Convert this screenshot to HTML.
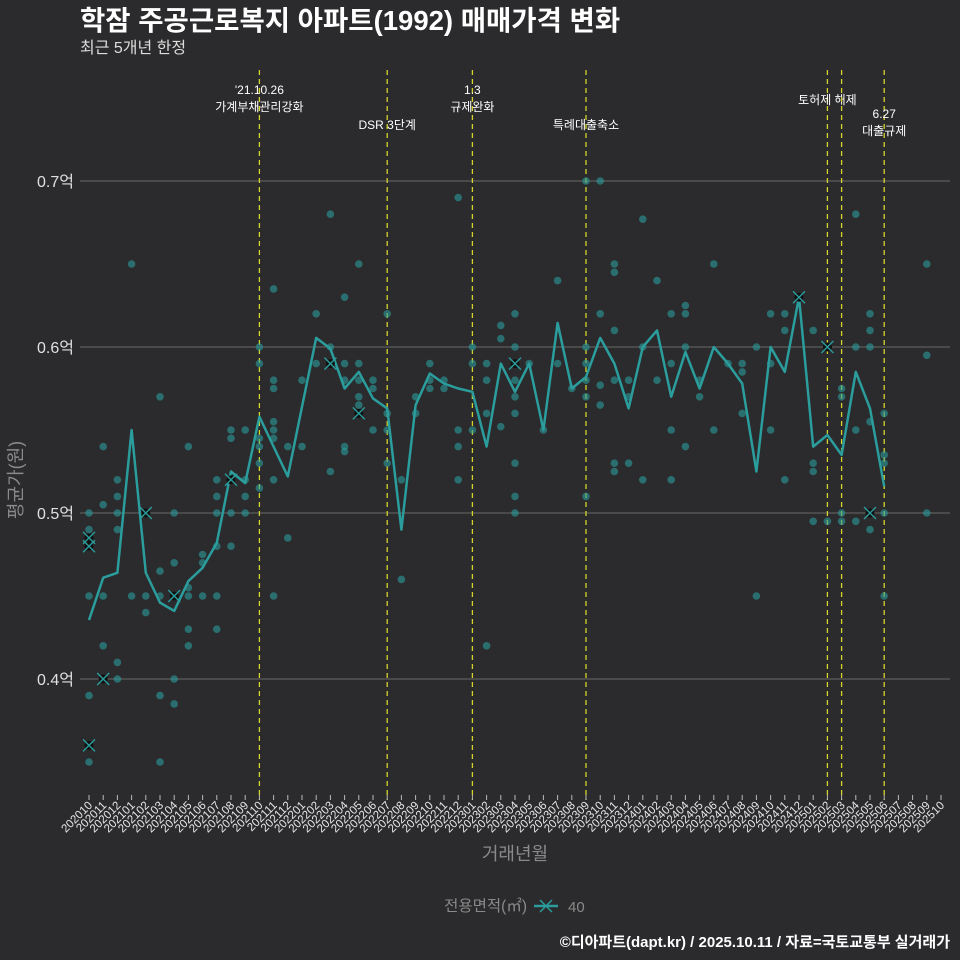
<!DOCTYPE html>
<html><head><meta charset="utf-8">
<style>
html,body{margin:0;padding:0;background:#2b2a2c;}
svg{display:block;font-family:"Liberation Sans","Noto Sans CJK KR",sans-serif;}
</style></head>
<body>
<svg id="chart" width="960" height="960" viewBox="0 0 960 960">
<rect x="0" y="0" width="960" height="960" fill="#2b2a2c"/>
<text x="80" y="30" fill="#ffffff" font-size="27.5" font-weight="bold">학잠 주공근로복지 아파트(1992) 매매가격 변화</text>
<text x="80" y="53" fill="#dddddd" font-size="16">최근 5개년 한정</text>
<g id="grid"></g>
<g id="events"></g>
<g id="points"></g>
<g id="line"></g>
<g id="xaxis"></g>
<text transform="translate(22,480) rotate(-90)" text-anchor="middle" fill="#8a8a8a" font-size="18">평균가(원)</text>
<text x="515" y="860" text-anchor="middle" fill="#8a8a8a" font-size="18">거래년월</text>
<g>
<text x="527" y="911" text-anchor="end" fill="#8a8a8a" font-size="15.5">전용면적(㎡)</text>
<line x1="534" y1="906" x2="558" y2="906" stroke="#2a9d9c" stroke-width="2.5"/>
<path d="M540,900 L552,912 M552,900 L540,912" stroke="#2a9d9c" stroke-width="1.5"/>
<text x="568" y="912" fill="#8a8a8a" font-size="15">40</text>
</g>
<text x="950" y="947" text-anchor="end" fill="#ffffff" font-size="15" font-weight="bold">©디아파트(dapt.kr) / 2025.10.11 / 자료=국토교통부 실거래가</text>
</svg>
<script>
const months=[];
for(let y=2020,m=10;months.length<61;){months.push(''+y+(m<10?'0'+m:m));m++;if(m>12){m=1;y++;}}
const yTicks=[0.4,0.5,0.6,0.7];
const yTickLabels=['0.4억','0.5억','0.6억','0.7억'];
const avgLine=[0.4355,0.461,0.464,0.550,0.464,0.446,0.441,0.459,0.467,0.482,0.525,0.518,0.558,0.540,0.522,0.564,0.6055,0.599,0.575,0.585,0.569,0.563,0.490,0.565,0.584,0.578,0.575,0.573,0.540,0.590,0.573,0.590,0.550,0.6145,0.575,0.582,0.6055,0.590,0.563,0.600,0.610,0.570,0.597,0.575,0.600,0.590,0.578,0.525,0.600,0.585,0.630,0.540,0.547,0.535,0.585,0.563,0.516];
const pointIdx=[0,0,0,0,0,0,0,0,1,1,1,1,1,2,2,2,2,2,2,3,3,4,4,4,5,5,5,5,5,6,6,6,6,6,7,7,7,7,7,8,8,8,9,9,9,9,9,9,10,10,10,10,10,11,11,11,11,12,12,12,12,12,12,13,13,13,13,13,13,13,13,14,14,15,15,16,16,17,17,17,17,18,18,18,18,18,19,19,19,19,19,19,20,20,20,21,21,21,21,22,22,23,23,24,24,24,25,25,26,26,26,26,27,27,27,28,28,28,28,29,29,29,30,30,30,30,30,30,30,30,30,31,32,33,33,34,35,35,35,35,35,35,36,36,36,36,37,37,37,37,37,37,38,38,38,39,39,39,40,40,41,41,41,41,42,42,42,42,43,43,44,44,45,46,46,46,47,47,48,48,48,49,49,49,50,51,51,51,51,52,52,53,53,53,53,54,54,54,54,55,55,55,55,55,55,56,56,56,56,56,59,59,59];
const pointVal=[0.5,0.49,0.485,0.48,0.45,0.39,0.36,0.35,0.54,0.505,0.45,0.42,0.40,0.52,0.51,0.50,0.49,0.41,0.40,0.65,0.45,0.50,0.45,0.44,0.57,0.465,0.45,0.39,0.35,0.50,0.47,0.45,0.40,0.385,0.54,0.455,0.45,0.43,0.42,0.475,0.47,0.45,0.52,0.51,0.50,0.48,0.45,0.43,0.55,0.545,0.52,0.50,0.48,0.55,0.52,0.51,0.50,0.60,0.59,0.545,0.54,0.53,0.515,0.635,0.58,0.575,0.555,0.55,0.545,0.52,0.45,0.54,0.485,0.58,0.54,0.62,0.59,0.68,0.60,0.59,0.525,0.63,0.59,0.58,0.54,0.537,0.65,0.59,0.58,0.57,0.565,0.56,0.58,0.575,0.55,0.62,0.56,0.55,0.53,0.52,0.46,0.57,0.56,0.59,0.58,0.575,0.58,0.575,0.69,0.55,0.54,0.52,0.60,0.59,0.55,0.59,0.58,0.56,0.42,0.613,0.605,0.552,0.62,0.60,0.59,0.58,0.57,0.56,0.53,0.51,0.50,0.59,0.55,0.64,0.59,0.575,0.70,0.60,0.59,0.58,0.57,0.51,0.70,0.62,0.577,0.565,0.65,0.645,0.61,0.58,0.53,0.525,0.58,0.57,0.53,0.677,0.60,0.52,0.64,0.58,0.62,0.59,0.55,0.52,0.625,0.62,0.60,0.54,0.58,0.57,0.65,0.55,0.59,0.59,0.585,0.56,0.60,0.45,0.62,0.59,0.55,0.62,0.61,0.52,0.63,0.61,0.53,0.525,0.495,0.60,0.495,0.575,0.57,0.50,0.495,0.68,0.60,0.55,0.495,0.62,0.61,0.60,0.555,0.50,0.49,0.56,0.535,0.53,0.50,0.45,0.65,0.595,0.50];
const crossIdx=[0,0,0,1,4,6,10,17,19,30,50,52,55];
const crossVal=[0.485,0.48,0.36,0.40,0.50,0.45,0.52,0.59,0.56,0.59,0.63,0.60,0.50];
const eventIdx=[12,21,27,35,52,53,56];
const eventLabels=[["'21.10.26","가계부채관리강화"],["DSR 3단계"],["1.3","규제완화"],["특례대출축소"],["토허제 해제"],[""],["6.27","대출규제"]];
const eventLabelY=[94,129,94,129,104,0,118];

const NS='http://www.w3.org/2000/svg';
const x=i=>89+i*14.2;
const y=v=>181+(0.7-v)*1660;
function mk(tag,attrs,parent){const e=document.createElementNS(NS,tag);for(const k in attrs)e.setAttribute(k,attrs[k]);parent.appendChild(e);return e;}
const grid=document.getElementById('grid');
yTicks.forEach((v,k)=>{
  const l=mk('line',{x1:80,x2:950,y1:y(v),y2:y(v),stroke:'#5e5e5e','stroke-width':1.2},grid);
  
  
  const t=mk('text',{x:74,y:y(v)+6,'text-anchor':'end',fill:'#e0e0e0','font-size':16},grid);
  t.textContent=yTickLabels[k];
  
  
});
const ev=document.getElementById('events');
eventIdx.forEach((i,k)=>{
  const l=mk('line',{x1:x(i),x2:x(i),y1:70,y2:800,stroke:'#d4d42a','stroke-width':1.3,'stroke-dasharray':'5,4'},ev);
  
  
  eventLabels[k].forEach((s,j)=>{
    if(!s)return;
    const t=mk('text',{x:x(i),y:eventLabelY[k]+j*17,'text-anchor':'middle',fill:'#ffffff','font-size':12},ev);
    t.textContent=s;
    
    
  });
});
const pts=document.getElementById('points');
pointIdx.forEach((i,k)=>{
  const c=mk('circle',{cx:x(i),cy:y(pointVal[k]),r:3.8,fill:'#2a9d9c','fill-opacity':0.6},pts);
  
  
});
const ln=document.getElementById('line');
const p=mk('polyline',{points:avgLine.map((v,i)=>x(i)+','+y(v)).join(' '),fill:'none',stroke:'#2a9d9c','stroke-width':2.5,'stroke-linejoin':'round'},ln);


crossIdx.forEach((i,k)=>{
  const cx=x(i),cy=y(crossVal[k]);
  mk('circle',{cx:cx,cy:cy,r:4.5,fill:'#111'},ln);
  const c=mk('path',{d:`M${cx-6},${cy-6} L${cx+6},${cy+6} M${cx+6},${cy-6} L${cx-6},${cy+6}`,stroke:'#2a9d9c','stroke-width':1.4},ln);
  
  
});
const xa=document.getElementById('xaxis');
months.forEach((m,i)=>{
  const tk=mk('line',{x1:x(i),x2:x(i),y1:795,y2:800,stroke:'#bbbbbb','stroke-width':1},xa);
  
  
  const t=mk('text',{transform:`translate(${x(i)+4},806) rotate(-45)`,'text-anchor':'end',fill:'#e8e8e8','font-size':11.5},xa);
  t.textContent=m;
  
  
});
</script>
</body></html>
